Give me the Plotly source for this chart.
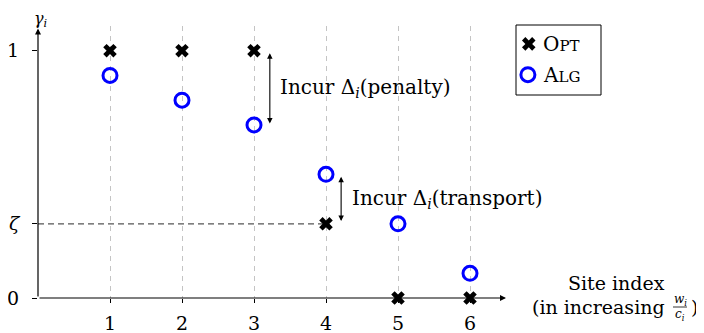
import plotly.graph_objects as go

# data
sites = [1, 2, 3, 4, 5, 6]
opt = [1.0, 1.0, 1.0, 0.3, 0.0, 0.0]
alg = [0.9, 0.8, 0.7, 0.5, 0.3, 0.1]
zeta = 0.3
ytick_vals = [0, zeta, 1]
ytick_text = ["0", "<i>ζ</i>", "1"]
legend_names = ["O<span style='font-size:15px'>PT</span>", "A<span style='font-size:15px'>LG</span>"]

FONT = "DejaVu Serif"
FS = 19
# page body has an 8px margin, so the figure starts at (8, 8) in the window
OFF = 8
W, H = 704 - OFF, 333 - OFF


def px(x):
    return (x - OFF) / W


def py(y):
    return 1 - (y - OFF) / H


opt_marker = dict(symbol="x", size=12, color="black")
alg_marker = dict(symbol="circle-open", size=14, color="#0000ff", line=dict(width=3, color="#0000ff"))

fig = go.Figure()

# zeta reference line up to site 4
fig.add_trace(go.Scatter(
    x=[0, sites[3]], y=[zeta, zeta], mode="lines",
    line=dict(color="#555555", width=1.2, dash="6px,4px"),
    showlegend=False, hoverinfo="skip"
))
fig.add_trace(go.Scatter(x=sites, y=opt, mode="markers", marker=opt_marker,
                         cliponaxis=False, showlegend=False))
fig.add_trace(go.Scatter(x=sites, y=alg, mode="markers", marker=alg_marker,
                         cliponaxis=False, showlegend=False))

# legend keys on a hidden axis pair
fig.add_trace(go.Scatter(x=[0.15], y=[0.73], xaxis="x2", yaxis="y2", mode="markers",
                         marker=opt_marker, showlegend=False, hoverinfo="skip"))
fig.add_trace(go.Scatter(x=[0.14], y=[0.29], xaxis="x2", yaxis="y2", mode="markers",
                         marker=alg_marker, showlegend=False, hoverinfo="skip"))

ann = []
# axes with arrow heads
ann.append(dict(x=6.5, y=0, ax=0, ay=0, xref="x", yref="y", axref="x", ayref="y",
                showarrow=True, arrowhead=2, arrowsize=1, arrowwidth=1.2, arrowcolor="black", text=""))
ann.append(dict(x=0, y=1.09, ax=0, ay=0, xref="x", yref="y", axref="x", ayref="y",
                showarrow=True, arrowhead=2, arrowsize=1, arrowwidth=1.2, arrowcolor="black", text=""))

# delta arrows
ann.append(dict(x=3.22, y=0.99, ax=3.22, ay=0.70, xref="x", yref="y", axref="x", ayref="y",
                showarrow=True, arrowhead=2, startarrowhead=2, arrowside="end+start",
                arrowsize=1, arrowwidth=1.1, arrowcolor="black", text=""))
ann.append(dict(x=4.21, y=0.49, ax=4.21, ay=0.305, xref="x", yref="y", axref="x", ayref="y",
                showarrow=True, arrowhead=2, startarrowhead=2, arrowside="end+start",
                arrowsize=1, arrowwidth=1.1, arrowcolor="black", text=""))
ann.append(dict(x=3.33, y=0.85, xref="x", yref="y", xanchor="left", yanchor="middle",
                text="Incur Δ<sub><i>i</i></sub>(penalty)", showarrow=False, font=dict(size=20)))
ann.append(dict(x=4.33, y=0.40, xref="x", yref="y", xanchor="left", yanchor="middle",
                text="Incur Δ<sub><i>i</i></sub>(transport)", showarrow=False, font=dict(size=20)))

# axis titles
ann.append(dict(x=px(41), y=py(8), xref="paper", yref="paper", xanchor="center", yanchor="top",
                text="<i>γ<sub>i</sub></i>", showarrow=False, borderpad=0, font=dict(size=16)))
ann.append(dict(x=px(616), y=py(283), xref="paper", yref="paper", xanchor="center", yanchor="middle",
                text="Site index", showarrow=False))
ann.append(dict(x=px(667), y=py(307), xref="paper", yref="paper", xanchor="right", yanchor="middle",
                text="(in increasing", showarrow=False))
ann.append(dict(x=px(680), y=py(300), xref="paper", yref="paper", xanchor="center", yanchor="middle",
                text="<i>w<sub>i</sub></i>", showarrow=False, font=dict(size=12)))
ann.append(dict(x=px(680), y=py(315), xref="paper", yref="paper", xanchor="center", yanchor="middle",
                text="<i>c<sub>i</sub></i>", showarrow=False, font=dict(size=12)))
ann.append(dict(x=px(689), y=py(307), xref="paper", yref="paper", xanchor="left", yanchor="middle",
                text=")", showarrow=False))

# legend texts
ann.append(dict(x=px(541), y=py(44), xref="paper", yref="paper", xanchor="left", yanchor="middle",
                text=legend_names[0], showarrow=False, font=dict(size=20)))
ann.append(dict(x=px(541), y=py(75), xref="paper", yref="paper", xanchor="left", yanchor="middle",
                text=legend_names[1], showarrow=False, font=dict(size=20)))

shapes = [
    dict(type="line", xref="paper", yref="paper", x0=px(673), x1=px(687), y0=py(307), y1=py(307),
         line=dict(color="black", width=0.8)),
    dict(type="rect", xref="paper", yref="paper", x0=px(516), x1=px(601), y0=py(95), y1=py(25),
         line=dict(color="black", width=1), fillcolor="rgba(0,0,0,0)"),
]

fig.update_layout(
    width=W, height=H,
    margin=dict(l=0, r=0, t=0, b=0),
    plot_bgcolor="white", paper_bgcolor="white",
    font=dict(family=FONT, size=FS, color="black"),
    annotations=ann, shapes=shapes,
    xaxis=dict(domain=[px(38), px(506)], range=[0, 6.5], tickvals=sites, ticks="outside",
               ticklen=4, tickcolor="black", showline=False, zeroline=False, showgrid=True,
               gridcolor="#c4c4c4", griddash="5px,5px", gridwidth=1, ticklabelstandoff=4,
               automargin=False, fixedrange=True),
    yaxis=dict(domain=[py(298), py(26)], range=[0, 1.1], tickvals=ytick_vals, ticktext=ytick_text,
               ticks="outside", ticklen=5, tickcolor="black", showline=False, zeroline=False,
               showgrid=False, ticklabelstandoff=9, automargin=False, fixedrange=True),
    xaxis2=dict(domain=[px(516), px(601)], range=[0, 1], visible=False, automargin=False,
                fixedrange=True),
    yaxis2=dict(domain=[py(95), py(25)], range=[0, 1], visible=False, automargin=False,
                fixedrange=True),
)

fig.write_html("out.html")
